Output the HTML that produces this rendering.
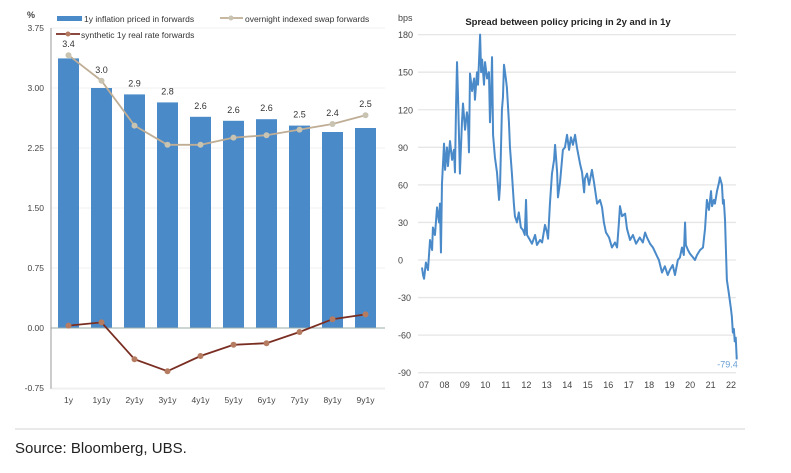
<!DOCTYPE html>
<html><head><meta charset="utf-8"><style>
body{margin:0;background:#fff;width:791px;height:468px;overflow:hidden;font-family:"Liberation Sans",sans-serif}
svg text{font-family:"Liberation Sans",sans-serif}
</style></head><body>
<svg width="791" height="468" viewBox="0 0 791 468">
<g id="left"></g>
<g id="right"></g>
<line x1="15" y1="429" x2="745" y2="429" stroke="#e2e2e2" stroke-width="1.5"/>
<text x="15" y="453" font-size="15" fill="#222">Source: Bloomberg, UBS.</text>
</svg>
<script>
const categories=["1y","1y1y","2y1y","3y1y","4y1y","5y1y","6y1y","7y1y","8y1y","9y1y"];
const inflation=[3.37,3.0,2.92,2.82,2.64,2.59,2.61,2.53,2.45,2.5];
const inflationLabels=["3.4","3.0","2.9","2.8","2.6","2.6","2.6","2.5","2.4","2.5"];
const ois=[3.41,3.09,2.53,2.29,2.29,2.38,2.41,2.48,2.55,2.66];
const realRate=[0.03,0.07,-0.39,-0.54,-0.35,-0.21,-0.19,-0.05,0.11,0.17];
const leftTicks=[3.75,3.0,2.25,1.5,0.75,0.0,-0.75];
const leftTickLabels=["3.75","3.00","2.25","1.50","0.75","0.00","-0.75"];

const spreadYears=[2007.00,2007.05,2007.10,2007.19,2007.29,2007.39,2007.49,2007.53,2007.63,2007.73,2007.83,2007.87,2007.92,2007.97,2008.07,2008.12,2008.21,2008.26,2008.36,2008.46,2008.55,2008.60,2008.65,2008.70,2008.75,2008.84,2008.94,2008.99,2009.09,2009.18,2009.23,2009.28,2009.33,2009.43,2009.53,2009.57,2009.67,2009.72,2009.82,2009.87,2009.92,2010.01,2010.06,2010.16,2010.25,2010.30,2010.35,2010.40,2010.45,2010.54,2010.64,2010.74,2010.79,2010.88,2010.93,2010.98,2011.07,2011.12,2011.22,2011.27,2011.36,2011.46,2011.51,2011.61,2011.70,2011.80,2011.90,2011.99,2012.05,2012.10,2012.24,2012.34,2012.49,2012.58,2012.73,2012.83,2012.97,2013.07,2013.12,2013.21,2013.31,2013.41,2013.46,2013.56,2013.60,2013.70,2013.84,2013.94,2014.04,2014.14,2014.23,2014.33,2014.43,2014.52,2014.67,2014.77,2014.87,2014.91,2015.01,2015.11,2015.25,2015.35,2015.50,2015.64,2015.74,2015.83,2015.93,2016.08,2016.22,2016.37,2016.47,2016.56,2016.61,2016.71,2016.86,2016.95,2017.10,2017.24,2017.39,2017.57,2017.72,2017.83,2017.92,2018.07,2018.21,2018.41,2018.50,2018.65,2018.79,2018.93,2019.03,2019.17,2019.28,2019.42,2019.52,2019.62,2019.71,2019.77,2019.81,2019.91,2020.01,2020.16,2020.25,2020.35,2020.50,2020.64,2020.74,2020.83,2020.93,2021.03,2021.08,2021.17,2021.22,2021.32,2021.42,2021.46,2021.56,2021.61,2021.65,2021.71,2021.75,2021.80,2021.89,2021.94,2021.99,2022.04,2022.09,2022.14,2022.18,2022.23,2022.28];
const spreadValues=[-6,-12,-15,-2,-8,16,8,26,20,42,30,45,6,61,93,72,90,75,95,80,88,70,120,158,130,69,110,125,104,118,112,86,149,135,145,128,150,140,180,150,160,140,158,145,150,110,130,162,100,82,70,48,60,120,130,156,145,138,110,90,70,45,35,30,38,26,24,20,48,20,16,13,20,12,16,14,28,22,17,45,69,80,92,70,50,62,88,90,100,88,98,92,100,90,77,70,54,65,69,60,72,62,45,48,42,30,22,18,10,14,10,30,43,35,37,25,16,20,13,18,14,22,18,13,10,3,0,-10,-5,-12,-8,-4,-12,0,2,10,4,30,12,8,5,2,0,4,8,10,25,48,40,55,43,48,45,55,62,66,60,45,48,32,10,-16,-26,-32,-38,-45,-58,-55,-65,-62,-79.4];
const rightTicks=[180,150,120,90,60,30,0,-30,-60,-90];
const rightTickLabels=["180","150","120","90","60","30","0","-30","-60","-90"];
const yearLabels=["07","08","09","10","11","12","13","14","15","16","17","18","19","20","21","22"];
const lastLabel="-79.4";

const NS="http://www.w3.org/2000/svg";
function mk(parent,tag,attrs,text){const e=document.createElementNS(NS,tag);for(const k in attrs)e.setAttribute(k,attrs[k]);if(text!==undefined)e.textContent=text;parent.appendChild(e);return e;}

// LEFT
const L=document.getElementById('left');
const ly=v=>328-v*80;
const lx=i=>68.5+i*33;
leftTicks.forEach((t,i)=>{
  if(t!==0){const g=mk(L,'line',{x1:51,x2:385,y1:ly(t),y2:ly(t),stroke:'#f0f0f0','stroke-width':1});
  
  }
  const tx=mk(L,'text',{x:44,y:ly(t)+3,'font-size':8.5,'text-anchor':'end',fill:'#444'},leftTickLabels[i]);
  
  
});
const pct=mk(L,'text',{x:27,y:18,'font-size':9,fill:'#444','font-weight':'bold'},'%');


inflation.forEach((v,i)=>{
  const r=mk(L,'rect',{x:lx(i)-10.5,y:ly(v),width:21,height:ly(0)-ly(v),fill:'#4a8ac9'});
  
  
  const t=mk(L,'text',{x:lx(i),y:ly(Math.max(v,ois[i]))-8,'font-size':9,'text-anchor':'middle',fill:'#333'},inflationLabels[i]);
  
  
  const c=mk(L,'text',{x:lx(i),y:403,'font-size':8.5,'text-anchor':'middle',fill:'#444'},categories[i]);
  
  
});
const ax=mk(L,'line',{x1:51,x2:385,y1:ly(0),y2:ly(0),stroke:'#9aa',"stroke-width":1});


const ay=mk(L,'line',{x1:51,x2:51,y1:28,y2:389,stroke:'#999',"stroke-width":1});


const ab=mk(L,'line',{x1:51,x2:385,y1:389,y2:389,stroke:'#eee',"stroke-width":1});


function series(data,color,dot,name){
  const p=mk(L,'polyline',{points:data.map((v,i)=>lx(i)+','+ly(v)).join(' '),fill:'none',stroke:color,'stroke-width':1.8});
  
  
  data.forEach((v,i)=>{const c=mk(L,'circle',{cx:lx(i),cy:ly(v),r:3,fill:dot});
  
  });
}
series(ois,'#bfae95','#c9c3b2','ois');
series(realRate,'#7a2e22','#b57c62','real-rate');
// legend
const lg=mk(L,'g',{});


mk(lg,'rect',{x:57,y:16,width:25,height:5,fill:'#4a8ac9'});
mk(lg,'text',{x:84,y:22,'font-size':8.5,fill:'#333'},'1y inflation priced in forwards');
mk(lg,'line',{x1:220,x2:243,y1:18,y2:18,stroke:'#bfae95','stroke-width':1.8});
mk(lg,'circle',{cx:231,cy:18,r:2.5,fill:'#c9c3b2'});
mk(lg,'text',{x:245,y:22,'font-size':8.5,fill:'#333'},'overnight indexed swap forwards');
mk(lg,'line',{x1:56,x2:80,y1:34,y2:34,stroke:'#7a2e22','stroke-width':1.8});
mk(lg,'circle',{cx:68,cy:34,r:2.5,fill:'#b57c62'});
mk(lg,'text',{x:81,y:38,'font-size':8.5,fill:'#333'},'synthetic 1y real rate forwards');

// RIGHT
const R=document.getElementById('right');
const ry=v=>260-v*1.252;
const rx=y=>422+(y-2007)*20.6;
rightTicks.forEach((t,i)=>{
  const g=mk(R,'line',{x1:418,x2:736,y1:ry(t),y2:ry(t),stroke:'#e6e6e6','stroke-width':1.3});
  
  
  const tx=mk(R,'text',{x:398,y:ry(t)+3.5,'font-size':9,fill:'#444'},rightTickLabels[i]);
  
  
});
yearLabels.forEach((l,i)=>{
  const t=mk(R,'text',{x:424+i*20.47,y:388,'font-size':9,'text-anchor':'middle',fill:'#444'},l);
  
  
});
const bps=mk(R,'text',{x:398,y:21,'font-size':9,fill:'#444'},'bps');


const ti=mk(R,'text',{x:568,y:25,'font-size':9.5,'font-weight':'bold','text-anchor':'middle',fill:'#222'},'Spread between policy pricing in 2y and in 1y');


const sp=mk(R,'polyline',{points:spreadYears.map((y,i)=>rx(y)+','+ry(spreadValues[i])).join(' '),fill:'none',stroke:'#4a8ac9','stroke-width':2,'stroke-linejoin':'round'});


const ll=mk(R,'text',{x:rx(spreadYears[spreadYears.length-1])+1,y:ry(spreadValues[spreadValues.length-1])+8,'font-size':9,'text-anchor':'end',fill:'#6aa0d4'},lastLabel);


</script>
</body></html>
